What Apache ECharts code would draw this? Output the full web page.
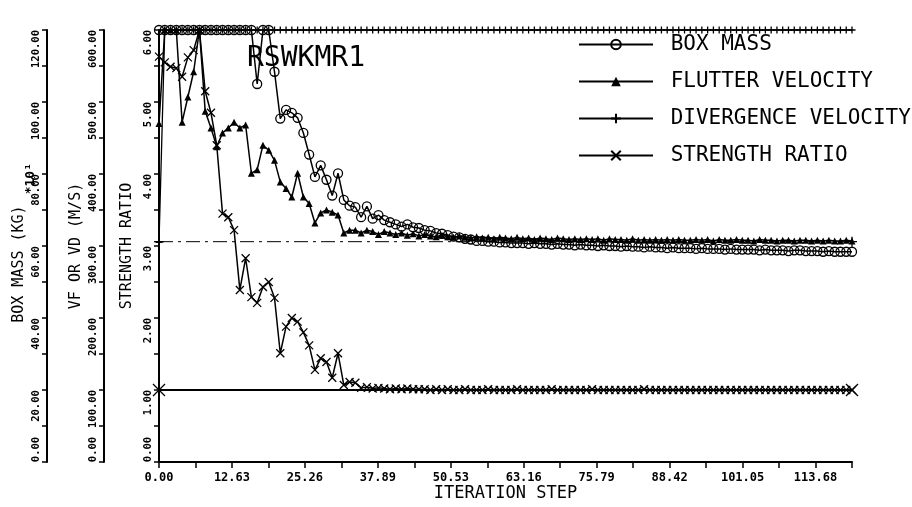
<!DOCTYPE html>
<html><head><meta charset="utf-8">
<script src="https://cdn.jsdelivr.net/npm/echarts@6/dist/echarts.min.js"></script>
<style>html,body{margin:0;padding:0;background:#fff}#c{width:912px;height:507px}</style>
</head><body><div id="c"></div>
<script>
// ---- data (iteration step = index 0..120) ----
const xTickLabels = ['0.00','12.63','25.26','37.89','50.53','63.16','75.79','88.42','101.05','113.68'];
const seriesNames = ['BOX MASS','FLUTTER VELOCITY','DIVERGENCE VELOCITY','STRENGTH RATIO'];

// box mass, kg x10^1
const boxMass = [
120,120,120,120,120,120,120,120,120,120,
120,120,120,120,120,120,120,105,120,120,
108.4,95.4,97.8,97.0,95.6,91.4,85.4,79.2,82.4,78.4,
74.0,80.2,72.8,71.2,70.8,68.0,71.0,67.6,68.6,67.2,
66.6,66.0,65.4,66.0,65.2,65.0,64.4,64.2,63.6,63.4,
63.0,62.6,62.4,62.0,61.8,61.4,61.4,61.2,61.2,61.0,
61.0,60.8,60.8,60.8,60.6,60.8,60.6,60.6,60.4,60.6,
60.4,60.4,60.2,60.4,60.2,60.2,60.0,60.2,60.0,60.0,
59.8,60.0,59.8,59.8,59.6,59.8,59.6,59.6,59.4,59.6,
59.4,59.4,59.4,59.2,59.4,59.2,59.2,59.2,59.0,59.2,
59.0,59.0,59.0,59.0,58.8,59.0,58.8,58.8,58.8,58.6,
58.8,58.8,58.6,58.6,58.6,58.4,58.6,58.4,58.4,58.4,
58.4
];
// flutter velocity, m/s
const flutterVelocity = [
470,600,600,600,472,507,542,600,487,464,
438,457,464,472,464,468,401,406,440,433,
419,389,380,368,401,368,359,332,346,350,
347,343,318,322,322,318,322,320,316,320,
318,316,318,315,317,314,316,314,313,315,
313,312,314,312,311,313,311,312,310,312,
311,310,312,310,311,309,311,310,309,311,
310,309,310,309,310,309,310,308,310,309,
309,308,310,308,309,308,309,308,309,308,
309,308,308,309,308,309,307,309,308,308,
309,308,308,307,309,308,308,307,308,308,
307,308,308,307,308,307,308,307,307,308,
307
];
// divergence velocity, m/s (capped at 600)
const divergenceVelocity = [
305,600,600,600,600,600,600,600,600,600,
600,600,600,600,600,600,600,600,600,600,
600,600,600,600,600,600,600,600,600,600,
600,600,600,600,600,600,600,600,600,600,
600,600,600,600,600,600,600,600,600,600,
600,600,600,600,600,600,600,600,600,600,
600,600,600,600,600,600,600,600,600,600,
600,600,600,600,600,600,600,600,600,600,
600,600,600,600,600,600,600,600,600,600,
600,600,600,600,600,600,600,600,600,600,
600,600,600,600,600,600,600,600,600,600,
600,600,600,600,600,600,600,600,600,600,
600
];
// strength ratio
const strengthRatio = [
5.63,5.55,5.49,5.47,5.35,5.62,5.72,6.00,5.15,4.85,
4.40,3.45,3.40,3.22,2.39,2.83,2.29,2.21,2.43,2.50,
2.28,1.51,1.88,2.00,1.95,1.80,1.62,1.28,1.44,1.39,
1.17,1.51,1.07,1.11,1.10,1.03,1.04,1.02,1.03,1.02,
1.01,1.02,1.01,1.02,1.01,1.01,1.01,1.00,1.01,1.00,
1.01,1.00,1.00,1.01,1.00,1.00,1.00,1.01,1.00,1.00,
1.00,1.00,1.01,1.00,1.00,1.00,1.00,1.00,1.01,1.00,
1.00,1.00,1.00,1.00,1.00,1.01,1.00,1.00,1.00,1.00,
1.00,1.00,1.00,1.00,1.01,1.00,1.00,1.00,1.00,1.00,
1.00,1.00,1.00,1.00,1.00,1.00,1.00,1.00,1.00,1.00,
1.00,1.00,1.00,1.00,1.00,1.00,1.00,1.00,1.00,1.00,
1.00,1.00,1.00,1.00,1.00,1.00,1.00,1.00,1.00,1.00,
1.00
];
// constraint lines
const reqVelocitySteps = [0, 120];
const reqVelocity = [306, 306];
const reqStrengthSteps = [0, 120];
const reqStrength = [1.0, 1.0];

// ---- chart ----
const FONT = 'DejaVu Sans Mono';
const YFS = 10.5;
const CW = 0.602*YFS; // char width of mono label font
const PLUS = 'path://M5,0L5,10M0,5L10,5';
const CROSS = 'path://M0,0L10,10M10,0L0,10';
const RING = 'path://M10,5A5,5,0,1,1,0,5A5,5,0,1,1,10,5Z';

function pair(arr){ return arr.map((v,i)=>[i,v]); }

const rich = {};
[4,5,6].forEach(n=>{
  const w = Math.round(n*CW);
  rich['d'+n] = {fontFamily:FONT,fontSize:YFS,fontWeight:'bold',color:'#000',padding:[0,w,0,0]};
  rich['z'+n] = {fontFamily:FONT,fontSize:YFS,fontWeight:'bold',color:'#000',padding:[0,0,0,w]};
});
function yFmt(v){ const s = Number(v).toFixed(2); return (v===0?'{z':'{d')+s.length+'|'+s+'}'; }

function yAxis(min,max,interval,offset,name,nameGap){
  return {
    type:'value', position:'left', offset, min, max, interval,
    name, nameLocation:'middle', nameGap, nameMoveOverlap:false,
    nameTextStyle:{fontFamily:FONT,fontSize:15,color:'#000'},
    axisLine:{show:true,lineStyle:{color:'#000',width:2}},
    axisTick:{show:true,inside:false,length:5,lineStyle:{color:'#000',width:1.5}},
    minorTick:{show:true,splitNumber:2,length:5,lineStyle:{color:'#000',width:1.5}},
    splitLine:{show:false}, minorSplitLine:{show:false},
    axisLabel:{rotate:90,margin:5,formatter:yFmt,rich,
      fontFamily:FONT,fontSize:YFS,fontWeight:'bold',color:'#000'}
  };
}

const baseLine = {type:'line', animation:false, clip:false, showSymbol:true,
  lineStyle:{color:'#000',width:1.5}, emphasis:{disabled:true}};

const option = {
  backgroundColor:'#fff',
  animation:false,
  title:{text:'RSWKMR1',left:247,top:45,padding:0,
    textStyle:{fontFamily:FONT,fontSize:28,fontWeight:'normal',color:'#000'}},
  legend:{
    data:seriesNames, orient:'vertical', left:573, top:29, itemWidth:74, itemHeight:12, itemGap:16,
    formatter:n=>' '+n,
    textStyle:{fontFamily:FONT,fontSize:21,color:'#000'}, selectedMode:false
  },
  grid:{left:159,right:60,top:30,bottom:45,containLabel:false},
  xAxis:{
    type:'value', min:0, max:120, interval:60/9.5,
    name:'ITERATION STEP', nameLocation:'middle', nameGap:23, nameMoveOverlap:false,
    nameTextStyle:{fontFamily:FONT,fontSize:17,color:'#000'},
    axisLine:{show:true,onZero:false,lineStyle:{color:'#000',width:2}},
    axisTick:{show:true,inside:false,length:6,lineStyle:{color:'#000',width:1.5}},
    splitLine:{show:false},
    axisLabel:{margin:10,fontFamily:FONT,fontSize:12,fontWeight:'bold',color:'#000',
      showMaxLabel:true,
      formatter:v=>{const k=Math.round(v/(60/9.5)); return (k%2===0 && k/2<xTickLabels.length)? xTickLabels[k/2] : '';}}
  },
  yAxis:[
    yAxis(0,6,1,0,'STRENGTH RATIO',24),
    yAxis(0,600,100,55,'VF OR VD (M/S)',20),
    yAxis(0,120,20,112,'BOX MASS (KG)    ',20)
  ],
  graphic:[{type:'text',left:24,top:163,rotation:Math.PI/2,
    style:{text:'*10¹',fontFamily:FONT,fontSize:13,fontWeight:'bold',fill:'#000'}}],
  series:[
    Object.assign({},baseLine,{name:seriesNames[0],yAxisIndex:2,data:pair(boxMass),
      symbol:RING,symbolSize:9,itemStyle:{color:'rgba(0,0,0,0)',borderColor:'#000',borderWidth:1.3}}),
    Object.assign({},baseLine,{name:seriesNames[1],yAxisIndex:1,data:pair(flutterVelocity),
      symbol:'triangle',symbolSize:7,itemStyle:{color:'#000'}}),
    Object.assign({},baseLine,{name:seriesNames[2],yAxisIndex:1,data:pair(divergenceVelocity),
      symbol:PLUS,symbolSize:7,lineStyle:{color:'#000',width:1.3},
      itemStyle:{color:'#000',borderColor:'#000',borderWidth:1.3}}),
    Object.assign({},baseLine,{name:seriesNames[3],yAxisIndex:0,data:pair(strengthRatio),
      symbol:CROSS,symbolSize:8,itemStyle:{color:'#000',borderColor:'#000',borderWidth:1.3}}),
    Object.assign({},baseLine,{name:'req-v',yAxisIndex:1,
      data:reqVelocity.map((v,i)=>[reqVelocitySteps[i],v]),
      symbol:PLUS,symbolSize:10,lineStyle:{color:'#000',width:1,type:[14,5,3,5]},
      itemStyle:{color:'#000',borderColor:'#000',borderWidth:1.3}}),
    Object.assign({},baseLine,{name:'req-s',yAxisIndex:0,
      data:reqStrength.map((v,i)=>[reqStrengthSteps[i],v]),
      symbol:CROSS,symbolSize:12,lineStyle:{color:'#000',width:2},
      itemStyle:{color:'#000',borderColor:'#000',borderWidth:1.3}})
  ]
};
const chart = echarts.init(document.getElementById('c'),null,{renderer:'canvas'});
chart.setOption(option);
</script>
</body></html>
